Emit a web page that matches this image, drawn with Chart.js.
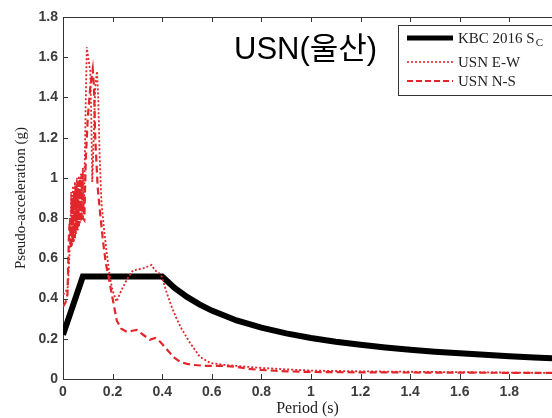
<!DOCTYPE html>
<html>
<head>
<meta charset="utf-8">
<script src="https://cdn.jsdelivr.net/npm/chart.js@4.4.0/dist/chart.umd.min.js"></script>
<style>
  html, body { margin: 0; padding: 0; background: #fff; }
  canvas { display: block; }
</style>
</head>
<body>
<canvas id="spectrumChart" width="552" height="418"></canvas>
<script>
// Design spectrum (KBC 2016, site class Sc)
const kbcPeriod = [0, 0.08, 0.4, 0.45, 0.5, 0.55, 0.6, 0.7, 0.8, 0.9, 1.0, 1.1, 1.2, 1.3, 1.4, 1.5, 1.6, 1.7, 1.8, 1.9, 2.0];
const kbcAccel  = [0.22, 0.51, 0.51, 0.453, 0.408, 0.371, 0.34, 0.291, 0.255, 0.227, 0.204, 0.185, 0.17, 0.157, 0.146, 0.136, 0.128, 0.12, 0.113, 0.107, 0.102];

// USN station, E-W component
const ewPeriod = [0, 0.01, 0.02, 0.026, 0.03, 0.033, 0.036, 0.04, 0.044, 0.048, 0.052, 0.056, 0.06, 0.064, 0.068,
  0.072, 0.076, 0.08, 0.084, 0.088, 0.092, 0.096, 0.104, 0.11, 0.114, 0.118, 0.124, 0.13, 0.137, 0.142, 0.148,
  0.155, 0.165, 0.177, 0.19, 0.2, 0.216, 0.235, 0.26, 0.282, 0.323, 0.357, 0.371, 0.385, 0.398, 0.418, 0.438,
  0.458, 0.478, 0.512, 0.552, 0.593, 0.65, 0.7, 0.8, 0.9, 1.0, 1.2, 1.4, 1.6, 1.8, 2.0];
const ewAccel = [0.42, 0.43, 0.46, 0.62, 0.75, 0.93, 0.66, 0.96, 0.68, 0.98, 0.72, 1.0, 0.74, 1.01, 0.77,
  1.02, 0.79, 1.05, 0.82, 1.1, 1.4, 1.65, 1.58, 1.53, 1.3, 0.98, 1.2, 1.45, 1.53, 1.4, 1.1,
  0.88, 0.75, 0.62, 0.5, 0.44, 0.385, 0.44, 0.5, 0.54, 0.55, 0.567, 0.54, 0.53, 0.51, 0.43, 0.36,
  0.3, 0.25, 0.18, 0.11, 0.08, 0.07, 0.065, 0.055, 0.048, 0.042, 0.038, 0.036, 0.034, 0.032, 0.03];

// USN station, N-S component
const nsPeriod = [0, 0.01, 0.018, 0.024, 0.028, 0.032, 0.036, 0.04, 0.044, 0.048, 0.052, 0.056, 0.06, 0.064,
  0.068, 0.072, 0.076, 0.08, 0.086, 0.092, 0.1, 0.11, 0.12, 0.125, 0.13, 0.14, 0.15, 0.161, 0.172, 0.185,
  0.2, 0.217, 0.235, 0.257, 0.28, 0.297, 0.323, 0.351, 0.371, 0.391, 0.41, 0.431, 0.45, 0.472, 0.5, 0.524,
  0.58, 0.65, 0.7, 0.75, 0.8, 0.9, 1.0, 1.2, 1.5, 2.0];
const nsAccel = [0.36, 0.38, 0.42, 0.72, 0.8, 0.65, 0.9, 0.68, 0.93, 0.7, 0.96, 0.74, 0.98, 0.76,
  1.0, 0.78, 1.02, 0.8, 0.79, 1.1, 1.3, 1.45, 1.54, 1.45, 1.2, 0.95, 0.82, 0.69, 0.58, 0.5,
  0.4, 0.29, 0.25, 0.235, 0.24, 0.244, 0.22, 0.195, 0.204, 0.186, 0.16, 0.13, 0.105, 0.086, 0.075, 0.07,
  0.065, 0.065, 0.06, 0.05, 0.045, 0.038, 0.035, 0.033, 0.032, 0.03];

const xTickStep = 0.2;
const yTickStep = 0.2;
const legendLabels = ['KBC 2016 S', 'USN E-W', 'USN N-S'];
const stationTitle = 'USN(울산)';

const RED = '#e2262c';
const AXIS = '#333333';

function toPoints(xs, ys) {
    return xs.map((x, i) => ({ x: x, y: ys[i] }));
}

function fmtTick(v) {
    return String(Math.round(v * 10) / 10);
}

// inward tick marks, top frame, station label and the boxed legend
const overlayPlugin = {
    id: 'overlay',
    afterDraw(chart) {
        const { ctx, chartArea, scales } = chart;
        const { left, right, top, bottom } = chartArea;
        ctx.save();

        ctx.strokeStyle = AXIS;
        ctx.lineWidth = 1;
        ctx.beginPath();
        ctx.moveTo(left, top + 0.5);
        ctx.lineTo(right, top + 0.5);
        scales.x.ticks.forEach(t => {
            const px = Math.round(scales.x.getPixelForValue(t.value)) + 0.5;
            ctx.moveTo(px, bottom);
            ctx.lineTo(px, bottom - 5);
            ctx.moveTo(px, top);
            ctx.lineTo(px, top + 5);
        });
        scales.y.ticks.forEach(t => {
            const py = Math.round(scales.y.getPixelForValue(t.value)) + 0.5;
            ctx.moveTo(left, py);
            ctx.lineTo(left + 5, py);
        });
        ctx.stroke();

        // station name
        ctx.fillStyle = '#000';
        ctx.font = '31px "Liberation Sans", "Noto Sans CJK KR", sans-serif';
        ctx.textAlign = 'left';
        ctx.textBaseline = 'alphabetic';
        ctx.fillText(stationTitle, 234, 59);

        // legend box
        const bx = 398.5, by = 25.5;
        ctx.fillStyle = '#fff';
        ctx.fillRect(bx, by, 170, 70);
        ctx.strokeStyle = AXIS;
        ctx.lineWidth = 1;
        ctx.strokeRect(bx, by, 170, 70);

        const rows = [38, 62, 81];
        const styles = [
            { color: '#000', width: 5, dash: [] },
            { color: RED, width: 1.6, dash: [2, 2] },
            { color: RED, width: 2, dash: [6, 3] }
        ];
        styles.forEach((s, i) => {
            ctx.beginPath();
            ctx.strokeStyle = s.color;
            ctx.lineWidth = s.width;
            ctx.setLineDash(s.dash);
            ctx.moveTo(407, rows[i]);
            ctx.lineTo(453, rows[i]);
            ctx.stroke();
        });
        ctx.setLineDash([]);

        ctx.fillStyle = '#222';
        ctx.textBaseline = 'middle';
        ctx.font = '15px "Liberation Serif", serif';
        legendLabels.forEach((txt, i) => {
            ctx.fillText(txt, 458, rows[i] + 1);
        });
        const w = ctx.measureText(legendLabels[0]).width;
        ctx.font = '11px "Liberation Serif", serif';
        ctx.fillText('C', 458 + w + 1, rows[0] + 5);

        ctx.restore();
    }
};

const axisFont = { family: '"Liberation Sans", Arial, sans-serif', size: 14, weight: 'bold' };

new Chart(document.getElementById('spectrumChart').getContext('2d'), {
    type: 'line',
    data: {
        datasets: [{
            label: 'KBC 2016 Sc',
            data: toPoints(kbcPeriod, kbcAccel),
            borderColor: '#000',
            borderWidth: 6,
            order: 3
        }, {
            label: 'USN E-W',
            data: toPoints(ewPeriod, ewAccel),
            borderColor: RED,
            borderWidth: 1.8,
            borderDash: [2, 2],
            order: 1
        }, {
            label: 'USN N-S',
            data: toPoints(nsPeriod, nsAccel),
            borderColor: RED,
            borderWidth: 2.2,
            borderDash: [7, 4],
            order: 2
        }]
    },
    options: {
        responsive: false,
        animation: false,
        devicePixelRatio: 1,
        layout: { padding: { top: 17, right: 0, left: 0, bottom: 0 } },
        elements: {
            point: { radius: 0 },
            line: { tension: 0, fill: false, borderCapStyle: 'butt' }
        },
        plugins: {
            legend: { display: false },
            tooltip: { enabled: false }
        },
        scales: {
            x: {
                type: 'linear',
                min: 0,
                max: 1.972,
                grid: { display: false, drawTicks: false },
                border: { display: true, color: AXIS, width: 1 },
                ticks: {
                    stepSize: xTickStep,
                    includeBounds: false,
                    maxRotation: 0,
                    autoSkip: false,
                    padding: 5,
                    color: '#3c3c3c',
                    font: axisFont,
                    callback: fmtTick
                },
                title: {
                    display: true,
                    text: 'Period (s)',
                    color: '#222',
                    font: { family: '"Liberation Serif", serif', size: 16 },
                    padding: { top: 0, bottom: 0 }
                },
                afterFit: s => { s.height = 39; }
            },
            y: {
                min: 0,
                max: 1.8,
                grid: { display: false, drawTicks: false },
                border: { display: true, color: AXIS, width: 1 },
                ticks: {
                    stepSize: yTickStep,
                    padding: 5,
                    color: '#3c3c3c',
                    font: axisFont,
                    callback: fmtTick
                },
                title: {
                    display: true,
                    text: 'Pseudo-acceleration (g)',
                    color: '#222',
                    font: { family: '"Liberation Serif", serif', size: 15 },
                    padding: { top: 12, bottom: 0 }
                },
                afterFit: s => { s.width = 63; }
            }
        }
    },
    plugins: [overlayPlugin]
});
</script>
</body>
</html>
